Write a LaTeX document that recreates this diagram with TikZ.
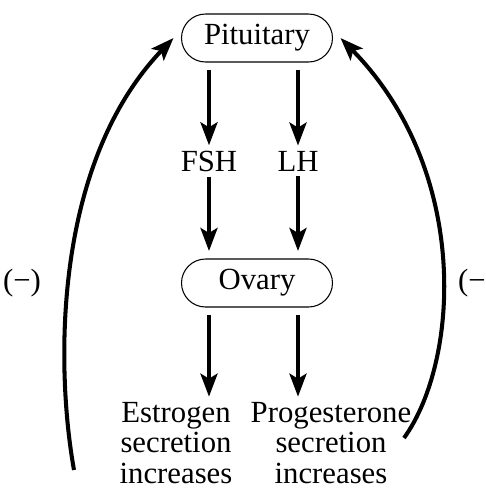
\documentclass[tikz,border=0pt]{standalone}
\usepackage{fontspec}
\setmainfont{Liberation Serif}
\usepackage{tikz}
\usetikzlibrary{arrows.meta}
\usetikzlibrary{positioning}

\tikzset{
  organ/.style={draw, line width=0.6pt, rounded corners=0.48cm, minimum width=3.02cm, minimum height=0.96cm, outer sep=0.16cm},
  hormone/.style={inner sep=0.1cm},
  effect/.style={align=center, inner sep=0.1cm},
  arr/.style={line width=2.3pt, -{Stealth[length=0.46cm, width=0.34cm, inset=0.1cm]}},
}

\begin{document}
\begin{tikzpicture}[x=0.02cm, y=-0.02cm, font=\fontsize{17.5}{17.5}\selectfont]
        \useasboundingbox (0,0) rectangle (486,491);

        \node[organ] (pit) at (257,38) {Pituitary};
        \node[hormone] (fsh) at (209,161) {FSH};
        \node[hormone] (lh) at (298,161) {LH};
        \node[organ] (ova) at (257,283) {Ovary};
        \node[effect] (estr) at (176,443) {Estrogen\\secretion\\increases};
        \node[effect] (prog) at (331,443) {Progesterone\\secretion\\increases};

        \node (negl) at (22,283) {(−)};
        \node (negr) at (477,283) {(−)};

        \coordinate (lfoot) at (74,470);
        \coordinate (rfoot) at (404,438);

        \draw[arr] (pit.south -| fsh) -- (fsh);
        \draw[arr] (pit.south -| lh) -- (lh);
        \draw[arr] (fsh) -- (ova.north -| fsh);
        \draw[arr] (lh) -- (ova.north -| lh);
        \draw[arr] (ova.south -| fsh) -- (estr.north -| fsh);
        \draw[arr] (ova.south -| lh) -- (prog.north -| lh);

        \draw[arr] (lfoot) .. controls (56,370) and (52,165) .. (pit.west);
        \draw[arr] (rfoot) .. controls (460,360) and (470,170) .. (pit.east);

\end{tikzpicture}
\end{document}
